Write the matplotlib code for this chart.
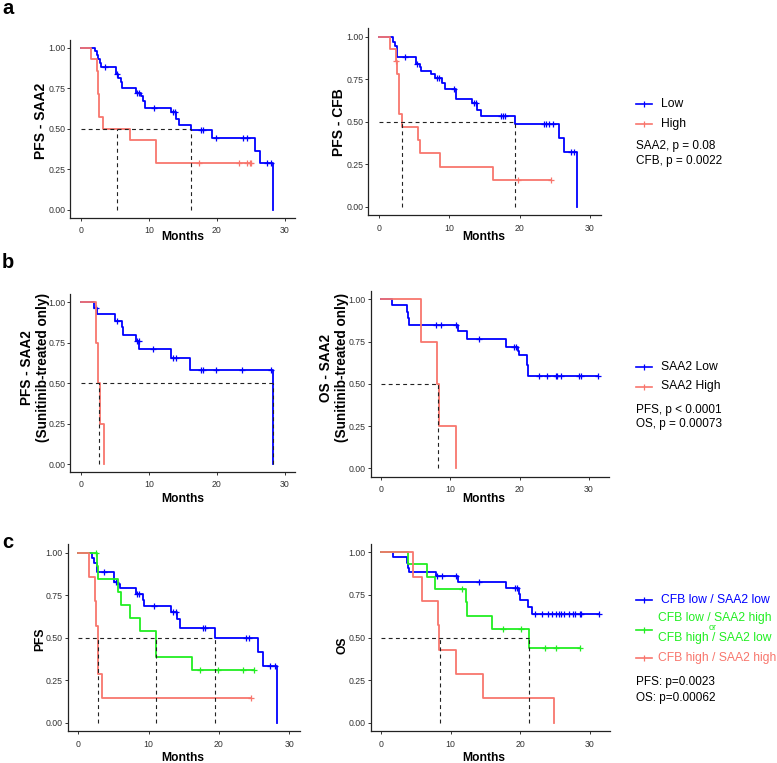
import numpy as np
import matplotlib.pyplot as plt

plt.rcParams['font.family'] = ['Liberation Sans', 'DejaVu Sans']

W, H = 777, 763
BLUE = '#0000FF'
RED = '#F8766D'
GREEN = '#22EE22'

# ---------------- data ----------------
# a, left: PFS - SAA2
a1_low_t = [2.1, 2.4, 2.6, 2.8, 3.0, 5.2, 5.5, 5.9, 6.1, 8.1, 8.8, 9.2, 9.5, 13.2, 14.0, 14.5, 16.2, 19.3, 25.6, 26.4, 28.2]
a1_low_s = [0.98, 0.955, 0.93, 0.905, 0.88, 0.835, 0.815, 0.79, 0.75, 0.72, 0.70, 0.67, 0.63, 0.60, 0.56, 0.525, 0.49, 0.44, 0.365, 0.29, 0.0]
a1_low_c = [3.6, 5.4, 8.3, 8.6, 10.8, 13.5, 13.9, 17.6, 18.0, 19.9, 23.8, 24.4, 27.3, 28.0]
a1_high_t = [1.5, 2.35, 2.5, 2.75, 3.3, 7.3, 11.0]
a1_high_s = [0.929, 0.857, 0.714, 0.571, 0.50, 0.429, 0.286]
a1_high_c = [17.3, 23.3, 24.4, 24.8, 25.0]
a1_medians = [5.35, 16.2]

# a, right: PFS - CFB
a2_low_t = [2.0, 2.3, 2.5, 2.6, 5.2, 5.8, 6.0, 7.35, 7.9, 9.0, 9.4, 11.0, 13.2, 13.9, 14.5, 19.4, 25.6, 26.35, 28.2]
a2_low_s = [0.97, 0.945, 0.91, 0.88, 0.84, 0.82, 0.80, 0.78, 0.755, 0.725, 0.694, 0.633, 0.608, 0.57, 0.533, 0.486, 0.405, 0.324, 0.0]
a2_low_c = [3.7, 5.4, 8.3, 8.6, 10.6, 13.5, 13.8, 17.3, 17.6, 17.9, 23.4, 23.7, 24.2, 24.8, 27.3, 27.7]
a2_high_t = [1.5, 2.37, 2.5, 2.8, 3.3, 5.5, 5.9, 8.7, 16.2]
a2_high_s = [0.925, 0.857, 0.78, 0.545, 0.467, 0.39, 0.314, 0.235, 0.157]
a2_high_c = [2.42, 19.8, 24.5]
a2_medians = [3.3, 19.4]

# b, left: PFS - SAA2 (sunitinib only)
b1_low_t = [2.0, 2.45, 5.1, 6.0, 6.2, 8.1, 8.6, 13.3, 16.1, 28.2]
b1_low_s = [0.963, 0.926, 0.887, 0.845, 0.80, 0.76, 0.709, 0.654, 0.581, 0.0]
b1_low_c = [2.3, 5.4, 8.3, 8.5, 10.6, 13.6, 14.0, 17.7, 18.0, 19.8, 23.7, 28.0]
b1_high_t = [2.3, 2.6, 2.8, 3.35]
b1_high_s = [0.75, 0.5, 0.25, 0.0]
b1_high_c = []
b1_medians = [2.7, 28.2]

# b, right: OS - SAA2 (sunitinib only)
b2_low_t = [1.63, 3.8, 3.94, 4.1, 11.15, 12.35, 18.0, 19.8, 19.95, 21.0, 21.15]
b2_low_s = [0.964, 0.925, 0.888, 0.85, 0.81, 0.767, 0.72, 0.695, 0.67, 0.61, 0.546]
b2_low_c = [8.0, 8.6, 10.8, 14.1, 19.2, 19.5, 22.8, 24.0, 25.2, 25.4, 25.9, 28.5, 28.8, 31.35]
b2_high_t = [5.77, 8.1, 8.4, 10.8]
b2_high_s = [0.75, 0.5, 0.25, 0.0]
b2_high_c = []
b2_medians = [8.25]

# c, left: PFS by CFB/SAA2 combination
c1_ll_t = [2.0, 2.3, 2.6, 2.7, 5.07, 5.45, 5.9, 8.15, 9.15, 9.4, 13.2, 14.0, 14.5, 19.4, 25.5, 26.3, 28.2]
c1_ll_s = [0.97, 0.94, 0.91, 0.886, 0.83, 0.815, 0.792, 0.757, 0.72, 0.686, 0.653, 0.608, 0.559, 0.498, 0.416, 0.333, 0.0]
c1_ll_c = [3.7, 5.3, 8.4, 8.7, 10.75, 13.5, 13.9, 17.7, 18.0, 23.8, 24.3, 27.3, 27.96]
c1_mix_t = [2.6, 2.75, 5.7, 6.0, 7.35, 8.8, 11.0, 16.2]
c1_mix_s = [0.923, 0.846, 0.769, 0.692, 0.615, 0.538, 0.385, 0.308]
c1_mix_c = [2.5, 17.3, 19.8, 23.4, 25.0]
c1_hh_t = [1.47, 2.37, 2.56, 2.75, 2.85, 3.36]
c1_hh_s = [0.857, 0.714, 0.571, 0.429, 0.286, 0.143]
c1_hh_c = [24.5]
c1_medians = [2.8, 11.0, 19.4]

# c, right: OS by CFB/SAA2 combination
c2_ll_t = [1.67, 3.8, 3.9, 4.07, 7.85, 11.05, 17.9, 19.75, 19.95, 21.05, 21.7]
c2_ll_s = [0.97, 0.94, 0.91, 0.886, 0.861, 0.826, 0.79, 0.755, 0.72, 0.68, 0.638]
c2_ll_c = [8.1, 8.7, 10.7, 14.1, 19.3, 19.5, 22.15, 23.1, 23.9, 24.6, 25.1, 25.6, 25.9, 26.2,
           27.0, 27.5, 27.85, 28.5, 28.7, 31.3]
c2_mix_t = [3.83, 6.65, 7.75, 12.2, 12.3, 15.9, 21.2]
c2_mix_s = [0.929, 0.857, 0.786, 0.707, 0.628, 0.55, 0.44]
c2_mix_c = [11.6, 17.5, 20.05, 23.6, 25.1, 28.5]
c2_hh_t = [4.64, 5.9, 8.13, 8.37, 10.77, 14.6, 24.8]
c2_hh_s = [0.857, 0.714, 0.571, 0.429, 0.286, 0.143, 0.0]
c2_hh_c = []
c2_medians = [8.4, 21.2]

fig = plt.figure(figsize=(W / 100, H / 100), dpi=100)


def make_axes(x0, x30, y1, y0, xmax=31.5):
    # pixel positions of x=0, x=30, y=1, y=0
    pxm = (x30 - x0) / 30.0
    pyu = (y0 - y1)
    left = x0 - 1.5 * pxm
    right = x0 + xmax * pxm
    top = y1 - 0.05 * pyu
    bottom = y0 + 0.05 * pyu
    ax = fig.add_axes([left / W, 1 - bottom / H, (right - left) / W, (bottom - top) / H])
    ax.set_xlim(-1.5, xmax)
    ax.set_ylim(-0.05, 1.05)
    for sp in ['top', 'right']:
        ax.spines[sp].set_visible(False)
    for sp in ['left', 'bottom']:
        ax.spines[sp].set_linewidth(0.9)
        ax.spines[sp].set_color('#222222')
    ax.set_xticks([0, 10, 20, 30])
    ax.set_yticks([0, 0.25, 0.5, 0.75, 1.0])
    ax.set_yticklabels(['0.00', '0.25', '0.50', '0.75', '1.00'])
    ax.tick_params(axis='both', labelsize=6.3, labelcolor='#333333', color='#333333',
                   length=2, width=0.7)
    ax.tick_params(axis='x', pad=4)
    ax.tick_params(axis='y', pad=1.5)
    ax.patch.set_alpha(0)
    return ax


def km(ax, t, s, cens, color):
    end = max(t[-1], cens[-1] if cens else 0)
    xs = [0] + t + [end]
    ys = [1] + s + [s[-1]]
    ax.step(xs, ys, where='post', color=color, lw=1.3, zorder=3)
    if cens:
        lv = np.array([1] + s)
        k = np.searchsorted(t, cens, side='right')
        ax.plot(cens, lv[k], ls='none', marker='+', ms=4.5, mew=0.9, color=color, zorder=3)


def medians(ax, med):
    ax.plot([0, max(med)], [0.5, 0.5], color='#222222', lw=0.8, dashes=(3.5, 3), zorder=4)
    for m in med:
        ax.plot([m, m], [0, 0.5], color='#222222', lw=0.8, dashes=(3.5, 3), zorder=4)


# a
ax = make_axes(80.7, 285.0, 47.7, 209.7)
km(ax, a1_low_t, a1_low_s, a1_low_c, BLUE)
km(ax, a1_high_t, a1_high_s, a1_high_c, RED)
medians(ax, a1_medians)

ax = make_axes(379.0, 590.0, 36.7, 206.7)
km(ax, a2_low_t, a2_low_s, a2_low_c, BLUE)
km(ax, a2_high_t, a2_high_s, a2_high_c, RED)
medians(ax, a2_medians)

# b
ax = make_axes(80.7, 285.0, 302.3, 464.0)
km(ax, b1_low_t, b1_low_s, b1_low_c, BLUE)
km(ax, b1_high_t, b1_high_s, b1_high_c, RED)
medians(ax, b1_medians)

ax = make_axes(381.0, 589.0, 299.3, 468.3, xmax=32.9)
km(ax, b2_low_t, b2_low_s, b2_low_c, BLUE)
km(ax, b2_high_t, b2_high_s, b2_high_c, RED)
medians(ax, b2_medians)

# c
ax = make_axes(78.3, 289.3, 552.7, 722.7)
km(ax, c1_ll_t, c1_ll_s, c1_ll_c, BLUE)
km(ax, c1_mix_t, c1_mix_s, c1_mix_c, GREEN)
km(ax, c1_hh_t, c1_hh_s, c1_hh_c, RED)
medians(ax, c1_medians)

ax = make_axes(381.0, 590.0, 552.3, 722.7, xmax=32.9)
km(ax, c2_ll_t, c2_ll_s, c2_ll_c, BLUE)
km(ax, c2_mix_t, c2_mix_s, c2_mix_c, GREEN)
km(ax, c2_hh_t, c2_hh_s, c2_hh_c, RED)
medians(ax, c2_medians)

# overlay in pixel coordinates for labels and legends
ov = fig.add_axes([0, 0, 1, 1])
ov.set_xlim(0, W)
ov.set_ylim(H, 0)
ov.axis('off')
ov.patch.set_alpha(0)

for letter, yb in [('a', 13.5), ('b', 268), ('c', 548.5)]:
    ov.text(2, yb, letter, fontsize=14.5, fontweight='bold', va='baseline', ha='left')

for x, y in [(183, 237), (484, 237), (183, 499), (484, 499), (183, 758), (484, 758)]:
    ov.text(x, y, 'Months', fontsize=8.7, fontweight='bold', ha='center', va='center')

ov.text(41, 121, 'PFS - SAA2', fontsize=10, fontweight='bold', rotation=90, ha='center', va='center')
ov.text(339, 122, 'PFS - CFB', fontsize=10, fontweight='bold', rotation=90, ha='center', va='center')
ov.text(35, 368, 'PFS - SAA2\n(Sunitinib-treated only)', fontsize=9.8, fontweight='bold',
        rotation=90, ha='center', va='center', linespacing=1.1)
ov.text(334, 368, 'OS - SAA2\n(Sunitinib-treated only)', fontsize=9.8, fontweight='bold',
        rotation=90, ha='center', va='center', linespacing=1.1)
ov.text(40, 639, 'PFS', fontsize=8.7, fontweight='bold', rotation=90, ha='center', va='center')
ov.text(342, 645, 'OS', fontsize=8.7, fontweight='bold', rotation=90, ha='center', va='center')


def key(y, color, label, tcolor='black'):
    ov.plot([636, 644, 652], [y, y, y], color=color, lw=1.2, marker='|', markevery=[1], ms=4, mew=0.9)
    if label:
        ov.text(661, y, label, fontsize=8.7, color=tcolor, va='center', ha='left')


key(104, BLUE, 'Low')
key(123.5, RED, 'High')
ov.text(635.5, 146, 'SAA2, p = 0.08', fontsize=8.5, va='center')
ov.text(635.5, 161, 'CFB, p = 0.0022', fontsize=8.5, va='center')

key(366.5, BLUE, 'SAA2 Low')
key(386.5, RED, 'SAA2 High')
ov.text(635.5, 410, 'PFS, p < 0.0001', fontsize=8.5, va='center')
ov.text(635.5, 424.5, 'OS, p = 0.00073', fontsize=8.5, va='center')

key(600, BLUE, 'CFB low / SAA2 low', BLUE)
key(629.5, GREEN, '')
ov.text(657.5, 617.5, 'CFB low / SAA2 high', fontsize=8.7, color=GREEN, va='center')
ov.text(709, 628, 'or', fontsize=6.5, color=GREEN, va='center')
ov.text(657.5, 638, 'CFB high / SAA2 low', fontsize=8.7, color=GREEN, va='center')
key(657.5, RED, '')
ov.text(657.5, 657.5, 'CFB high / SAA2 high', fontsize=8.7, color=RED, va='center')
ov.text(635.5, 682.5, 'PFS: p=0.0023', fontsize=8.5, va='center')
ov.text(635.5, 697.5, 'OS: p=0.00062', fontsize=8.5, va='center')

fig.savefig('out.png', dpi=100, facecolor='white')
